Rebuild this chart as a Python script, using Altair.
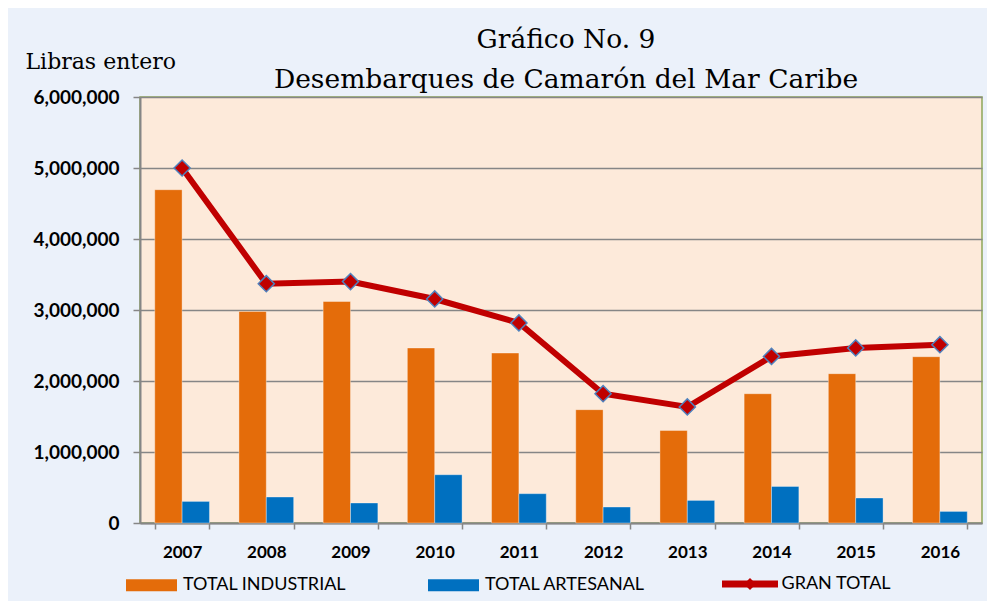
import altair as alt
import pandas as pd

years = ["2007", "2008", "2009", "2010", "2011", "2012", "2013", "2014", "2015", "2016"]
industrial = [4694000, 2980000, 3120000, 2465000, 2394000, 1596000, 1304000, 1821000, 2103000, 2342000]
artesanal = [304000, 366000, 282000, 680000, 413000, 225000, 318000, 515000, 352000, 163000]
gran_total = [5000000, 3370000, 3400000, 3155000, 2817000, 1821000, 1634000, 2346000, 2465000, 2511000]
bar_series = ["TOTAL INDUSTRIAL", "TOTAL ARTESANAL"]
line_series = "GRAN TOTAL"
marker_key = "GRAN TOTAL (marcador)"
y_ticks = [0, 1000000, 2000000, 3000000, 4000000, 5000000, 6000000]

bars_df = pd.DataFrame(
    [{"year": y, "serie": bar_series[0], "value": v} for y, v in zip(years, industrial)]
    + [{"year": y, "serie": bar_series[1], "value": v} for y, v in zip(years, artesanal)]
)
line_df = pd.DataFrame({"year": years, "value": gran_total,
                        "serie_l": [line_series] * len(years),
                        "serie_p": [marker_key] * len(years)})

GRAY = "#868686"
x_enc = alt.X(
    "year:N", sort=years,
    scale=alt.Scale(paddingInner=0.35, paddingOuter=0.175),
    axis=alt.Axis(title=None, labelAngle=0, labelFont="Lato", labelFontWeight="bold",
                  labelFontSize=17, labelColor="black", tickSize=6, tickColor=GRAY,
                  tickWidth=1.5, tickBand="extent", domainColor=GRAY, domainWidth=2,
                  labelPadding=15, grid=False),
)
y_enc = alt.Y(
    "value:Q",
    scale=alt.Scale(domain=[0, 6000000], nice=False),
    axis=alt.Axis(values=y_ticks, format=",d", labelFont="Lato", labelFontWeight="bold",
                  labelFontSize=19, labelColor="black", tickSize=7, tickColor=GRAY,
                  tickWidth=1.5, labelPadding=14, domainColor=GRAY, domainWidth=2,
                  gridColor=GRAY, gridWidth=1.5,
                  title="Libras entero", titleFont="DejaVu Serif", titleFontSize=22,
                  titleFontWeight="normal", titleColor="black", titleAngle=0,
                  titleAlign="left", titleBaseline="alphabetic", titleX=-115, titleY=-29),
)

bars = alt.Chart(bars_df).mark_bar(stroke="#FFFFFF", strokeOpacity=0.35, strokeWidth=1).encode(
    x=x_enc,
    xOffset=alt.XOffset("serie:N", sort=bar_series,
                        scale=alt.Scale(domain=bar_series, paddingInner=0, paddingOuter=0)),
    y=y_enc,
    fill=alt.Fill("serie:N", sort=bar_series,
                  scale=alt.Scale(domain=bar_series, range=["#E46C0A", "#0070C0"]),
                  legend=alt.Legend(title=None, orient="none", direction="horizontal",
                                    legendX=-14, legendY=462.5, padding=0,
                                    symbolType="M-1,-0.235H1V0.235H-1Z", symbolSize=2601,
                                    symbolStrokeWidth=0, labelFont="Lato", labelFontSize=18,
                                    labelColor="black", labelOffset=6, labelLimit=400,
                                    columnPadding=81)),
)

line = alt.Chart(line_df).mark_line(strokeWidth=6).encode(
    x=alt.X("year:N", sort=years),
    y=alt.Y("value:Q"),
    stroke=alt.Stroke("serie_l:N",
                      scale=alt.Scale(domain=[line_series], range=["#C00000"]),
                      legend=alt.Legend(title=None, orient="none", direction="horizontal",
                                        legendX=578.5, legendY=455.5, padding=0,
                                        symbolType="M-1,0H1", symbolSize=3136,
                                        symbolStrokeWidth=7, labelFont="Lato",
                                        labelFontSize=18, labelColor="black", labelOffset=0,
                                        labelLimit=400)),
)

points = alt.Chart(line_df).mark_point(filled=True, fill="#C00000", stroke="#4F81BD",
                                       strokeWidth=1.5, opacity=1, size=260).encode(
    x=alt.X("year:N", sort=years),
    y=alt.Y("value:Q"),
    shape=alt.Shape("serie_p:N",
                    scale=alt.Scale(domain=[marker_key], range=["diamond"]),
                    legend=alt.Legend(title=None, orient="none", direction="horizontal",
                                      legendX=603, legendY=480, padding=0,
                                      symbolSize=144, symbolFillColor="#C00000",
                                      symbolStrokeColor="#4F81BD", symbolStrokeWidth=1.5,
                                      labelExpr="''", labelFontSize=1, labelOffset=0,
                                      labelLimit=1)),
)

chart = alt.layer(bars, line, points).properties(
    width=842, height=426,
    padding={"left": 17, "top": 18, "right": 5, "bottom": 5},
    background="#EBF1FA",
    title=alt.TitleParams(text=["Gráfico No. 9", "Desembarques de Camarón del Mar Caribe"],
                          font="DejaVu Serif", fontSize=26.5, fontWeight="normal",
                          color="black", anchor="middle", lineHeight=40, offset=-43, dx=5),
).configure_view(fill="#FDEADA", stroke="#8EA65A", strokeWidth=1.5)

chart.save("out.html", embed_options={"renderer": "svg", "actions": False})
